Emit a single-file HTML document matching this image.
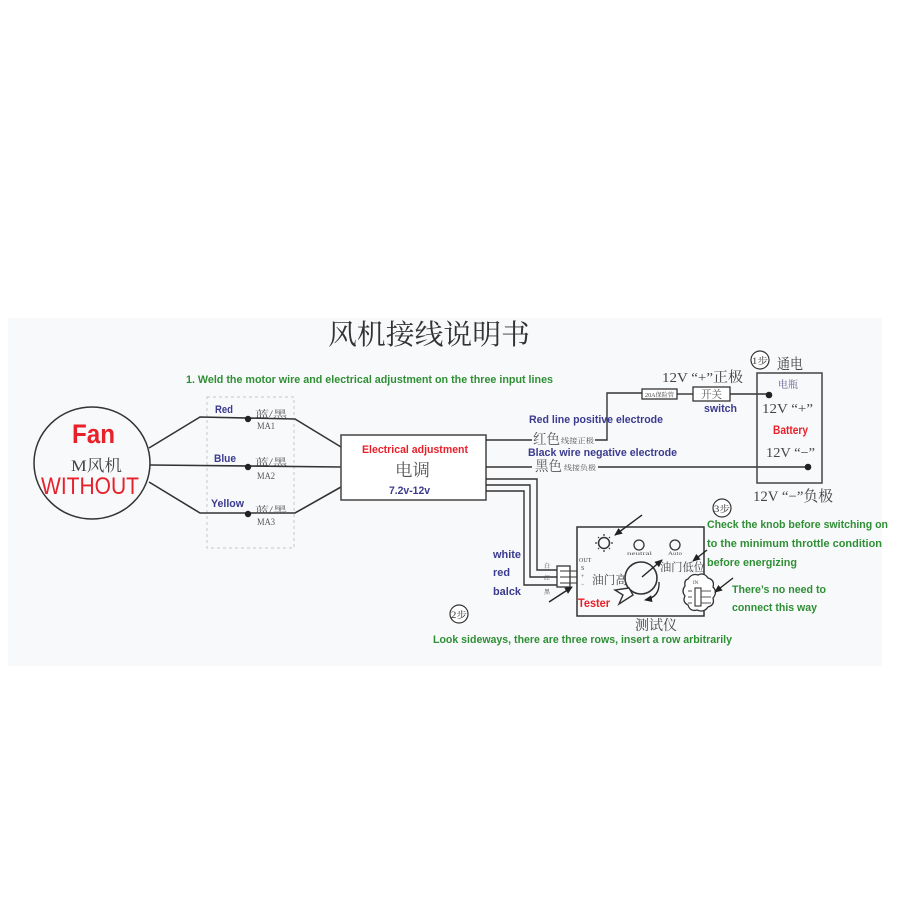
<!DOCTYPE html>
<html><head><meta charset="utf-8"><style>
html,body{margin:0;padding:0;background:#fff;}
svg{display:block;}
.en{font-family:"Liberation Sans",sans-serif;}
.cj{font-family:"Liberation Serif","Noto Serif CJK SC",serif;}
.g{fill:#2f8f35;font-weight:bold;font-family:"Liberation Sans",sans-serif;}
.b{fill:#3b3b8f;font-weight:bold;font-family:"Liberation Sans",sans-serif;}
.r{fill:#e8202a;font-weight:bold;font-family:"Liberation Sans",sans-serif;}
</style></head><body>
<svg width="900" height="900" viewBox="0 0 900 900" xmlns="http://www.w3.org/2000/svg">
<defs>
<marker id="ah" markerWidth="8" markerHeight="8" refX="7" refY="4" orient="auto" markerUnits="userSpaceOnUse">
<path d="M0,0.5 L8,4 L0,7.5 Z" fill="#222"/>
</marker>
</defs>
<rect x="0" y="0" width="900" height="900" fill="#fff"/>
<rect x="8" y="318" width="874" height="348" fill="#f8f9fb"/>

<!-- Title -->
<text x="328" y="344" class="cj" font-size="28" fill="#333" textLength="202" lengthAdjust="spacingAndGlyphs">风机接线说明书</text>
<text x="186" y="383" class="g" font-size="11" textLength="367" lengthAdjust="spacingAndGlyphs">1. Weld the motor wire and electrical adjustment on the three input lines</text>

<!-- Fan -->
<ellipse cx="92" cy="463" rx="58" ry="56" fill="none" stroke="#333" stroke-width="1.5"/>
<text x="72" y="443" class="r" font-size="27" textLength="43" lengthAdjust="spacingAndGlyphs">Fan</text>
<text x="71" y="471" class="cj" font-size="16" fill="#444" textLength="51" lengthAdjust="spacingAndGlyphs">M风机</text>
<text x="41" y="494" class="en" font-size="24" fill="#e8202a" textLength="98" lengthAdjust="spacingAndGlyphs">WITHOUT</text>

<!-- dashed rect -->
<rect x="207" y="397" width="87" height="151" fill="none" stroke="#c8c8c8" stroke-width="1" stroke-dasharray="3,3"/>

<!-- fan wires -->
<g stroke="#333" stroke-width="1.6" fill="none">
<polyline points="149,448 200,417 295,419 341,447"/>
<polyline points="150,465 341,467"/>
<polyline points="149,482 200,513 295,513 341,487"/>
</g>
<g fill="#222">
<circle cx="248" cy="419" r="3.2"/>
<circle cx="248" cy="467" r="3.2"/>
<circle cx="248" cy="514" r="3.2"/>
</g>
<text x="215" y="413" class="b" font-size="11" textLength="18" lengthAdjust="spacingAndGlyphs">Red</text>
<text x="214" y="462" class="b" font-size="11" textLength="22" lengthAdjust="spacingAndGlyphs">Blue</text>
<text x="211" y="507" class="b" font-size="11" textLength="33" lengthAdjust="spacingAndGlyphs">Yellow</text>
<g class="cj" font-size="9" fill="#555">
<text x="255" y="417" textLength="32" lengthAdjust="spacingAndGlyphs">蓝/黑</text>
<text x="257" y="429" textLength="18" lengthAdjust="spacingAndGlyphs">MA1</text>
<text x="255" y="465" textLength="32" lengthAdjust="spacingAndGlyphs">蓝/黑</text>
<text x="257" y="479" textLength="18" lengthAdjust="spacingAndGlyphs">MA2</text>
<text x="255" y="513" textLength="32" lengthAdjust="spacingAndGlyphs">蓝/黑</text>
<text x="257" y="525" textLength="18" lengthAdjust="spacingAndGlyphs">MA3</text>
</g>

<!-- ESC -->
<rect x="341" y="435" width="145" height="65" fill="#fff" stroke="#444" stroke-width="1.5"/>
<text x="362" y="453" class="r" font-size="11" textLength="106" lengthAdjust="spacingAndGlyphs">Electrical adjustment</text>
<text x="395" y="476" class="cj" font-size="17" fill="#555" textLength="35" lengthAdjust="spacingAndGlyphs">电调</text>
<text x="389" y="494" class="b" font-size="11" textLength="41" lengthAdjust="spacingAndGlyphs">7.2v-12v</text>

<!-- ESC outputs -->
<g stroke="#333" stroke-width="1.4" fill="none">
<polyline points="486,440 532,440"/>
<polyline points="595,440 607,440 607,393 642,393"/>
<polyline points="486,467 532,467"/>
<polyline points="598,467 808,467"/>
<polyline points="486,479 537,479 537,570 557,570"/>
<polyline points="486,485 530,485 530,577 557,577"/>
<polyline points="486,491 524,491 524,585 557,585"/>
<polyline points="677,394 693,394"/>
<polyline points="730,394 768,394"/>
</g>
<text x="529" y="423" class="b" font-size="11" textLength="134" lengthAdjust="spacingAndGlyphs">Red line positive electrode</text>
<text x="533" y="444" class="cj" font-size="14" fill="#555" textLength="27" lengthAdjust="spacingAndGlyphs">红色</text>
<text x="561" y="443" class="cj" font-size="7" fill="#555" textLength="33" lengthAdjust="spacingAndGlyphs">线接正极</text>
<text x="528" y="456" class="b" font-size="11" textLength="149" lengthAdjust="spacingAndGlyphs">Black wire negative electrode</text>
<text x="535" y="471" class="cj" font-size="14" fill="#555" textLength="27" lengthAdjust="spacingAndGlyphs">黑色</text>
<text x="564" y="470" class="cj" font-size="7" fill="#555" textLength="32" lengthAdjust="spacingAndGlyphs">线接负极</text>

<!-- fuse & switch -->
<rect x="642" y="389" width="35" height="10" fill="#fff" stroke="#333" stroke-width="1.3"/>
<text x="645" y="397" class="cj" font-size="6" fill="#444" textLength="29" lengthAdjust="spacingAndGlyphs">20A保险管</text>
<rect x="693" y="387" width="37" height="14" fill="#fff" stroke="#333" stroke-width="1.3"/>
<text x="701" y="398" class="cj" font-size="11" fill="#555" textLength="21" lengthAdjust="spacingAndGlyphs">开关</text>
<text x="662" y="382" class="cj" font-size="14" fill="#444" textLength="81" lengthAdjust="spacingAndGlyphs">12V “+”正极</text>
<text x="704" y="412" class="b" font-size="11" textLength="33" lengthAdjust="spacingAndGlyphs">switch</text>

<!-- Battery -->
<rect x="757" y="373" width="65" height="110" fill="none" stroke="#444" stroke-width="1.5"/>
<circle cx="760" cy="360" r="9" fill="#fff" stroke="#333" stroke-width="1.2"/>
<text x="752" y="364" class="cj" font-size="9" fill="#333" textLength="16" lengthAdjust="spacingAndGlyphs">1步</text>
<text x="777" y="369" class="cj" font-size="15" fill="#444" textLength="26" lengthAdjust="spacingAndGlyphs">通电</text>
<text x="778" y="388" class="cj" font-size="10" fill="#5a5a90" textLength="20" lengthAdjust="spacingAndGlyphs">电瓶</text>
<circle cx="769" cy="395" r="3.3" fill="#222"/>
<circle cx="808" cy="467" r="3.3" fill="#222"/>
<text x="762" y="413" class="cj" font-size="14" fill="#444" textLength="51" lengthAdjust="spacingAndGlyphs">12V “+”</text>
<text x="773" y="434" class="r" font-size="12" textLength="35" lengthAdjust="spacingAndGlyphs">Battery</text>
<text x="766" y="457" class="cj" font-size="14" fill="#444" textLength="49" lengthAdjust="spacingAndGlyphs">12V “−”</text>
<text x="753" y="501" class="cj" font-size="15" fill="#444" textLength="80" lengthAdjust="spacingAndGlyphs">12V “−”负极</text>

<!-- connector labels -->
<text x="493" y="558" class="b" font-size="11" textLength="28" lengthAdjust="spacingAndGlyphs">white</text>
<text x="493" y="576" class="b" font-size="11" textLength="17" lengthAdjust="spacingAndGlyphs">red</text>
<text x="493" y="595" class="b" font-size="11" textLength="28" lengthAdjust="spacingAndGlyphs">balck</text>
<g class="cj" font-size="6" fill="#444">
<text x="544" y="568">白</text>
<text x="544" y="580">红</text>
<text x="544" y="594">黑</text>
</g>
<rect x="557" y="566" width="13" height="21" fill="#fff" stroke="#333" stroke-width="1.3"/>
<g stroke="#333" stroke-width="1.1">
<line x1="560" y1="571" x2="577" y2="571"/>
<line x1="560" y1="577" x2="577" y2="577"/>
<line x1="560" y1="583" x2="577" y2="583"/>
</g>

<!-- Tester -->
<rect x="577" y="527" width="127" height="89" fill="none" stroke="#333" stroke-width="1.5"/>
<g class="cj" font-size="6" fill="#444">
<text x="579" y="562">OUT</text>
<text x="581" y="570">S</text>
<text x="581" y="578">+</text>
<text x="581" y="586">−</text>
</g>
<!-- sun -->
<circle cx="604" cy="543" r="5.5" fill="none" stroke="#333" stroke-width="1.5"/>
<g stroke="#333" stroke-width="1.2">
<line x1="604" y1="534" x2="604" y2="536"/><line x1="604" y1="550" x2="604" y2="552"/>
<line x1="595" y1="543" x2="597" y2="543"/><line x1="611" y1="543" x2="613" y2="543"/>
<line x1="598" y1="537" x2="599" y2="538"/><line x1="609" y1="548" x2="610" y2="549"/>
<line x1="610" y1="537" x2="609" y2="538"/><line x1="598" y1="549" x2="599" y2="548"/>
</g>
<circle cx="639" cy="545" r="5" fill="none" stroke="#333" stroke-width="1.3"/>
<circle cx="675" cy="545" r="5" fill="none" stroke="#333" stroke-width="1.3"/>
<text x="627" y="555" class="cj" font-size="5" fill="#555" textLength="25" lengthAdjust="spacingAndGlyphs">neutral</text>
<text x="668" y="555" class="cj" font-size="5" fill="#555" textLength="14" lengthAdjust="spacingAndGlyphs">Auto</text>
<!-- knob -->
<circle cx="641" cy="578" r="16" fill="none" stroke="#333" stroke-width="1.6"/>
<path d="M629,588 L615,590 L623,595 L619,604 L633,595 Z" fill="#fff" stroke="#333" stroke-width="1.4"/>
<line x1="642" y1="577" x2="662" y2="560" stroke="#222" stroke-width="1.4" marker-end="url(#ah)"/>
<path d="M659,582 Q660,597 645,600" fill="none" stroke="#222" stroke-width="1.3" marker-end="url(#ah)"/>
<text x="592" y="584" class="cj" font-size="12" fill="#444" textLength="35" lengthAdjust="spacingAndGlyphs">油门高</text>
<text x="660" y="571" class="cj" font-size="11.5" fill="#444" textLength="45" lengthAdjust="spacingAndGlyphs">油门低位</text>
<text x="578" y="607" class="r" font-size="12" textLength="32" lengthAdjust="spacingAndGlyphs">Tester</text>
<text x="635" y="630" class="cj" font-size="14" fill="#444" textLength="42" lengthAdjust="spacingAndGlyphs">测试仪</text>
<!-- cloud -->
<path d="M688,579 q4,-6 10,-4 q6,-3 10,3 q7,2 5,9 q5,5 0,11 q2,7 -5,9 q-4,6 -11,3 q-7,2 -9,-5 q-6,-3 -3,-9 q-4,-5 0,-10 q-1,-6 3,-7 Z" fill="#fff" stroke="#333" stroke-width="1.3"/>
<text x="693" y="584" class="cj" font-size="5" fill="#444">IN</text>
<rect x="695" y="588" width="6" height="18" fill="none" stroke="#333" stroke-width="1.1"/>
<g stroke="#555" stroke-width="1">
<line x1="701" y1="591" x2="711" y2="591"/><line x1="701" y1="597" x2="711" y2="597"/><line x1="701" y1="603" x2="711" y2="603"/>
<line x1="688" y1="591" x2="692" y2="591"/><line x1="688" y1="597" x2="692" y2="597"/><line x1="688" y1="603" x2="692" y2="603"/>
</g>
<!-- arrows -->
<g stroke="#222" stroke-width="1.4" fill="none">
<line x1="642" y1="515" x2="615" y2="535" marker-end="url(#ah)"/>
<line x1="707" y1="550" x2="693" y2="561" marker-end="url(#ah)"/>
<line x1="549" y1="602" x2="572" y2="587" marker-end="url(#ah)"/>
<line x1="733" y1="578" x2="715" y2="592" marker-end="url(#ah)"/>
</g>

<!-- step circles -->
<circle cx="459" cy="614" r="9" fill="#fff" stroke="#333" stroke-width="1.2"/>
<text x="451" y="618" class="cj" font-size="9" fill="#333" textLength="16" lengthAdjust="spacingAndGlyphs">2步</text>
<circle cx="722" cy="508" r="9" fill="#fff" stroke="#333" stroke-width="1.2"/>
<text x="714" y="512" class="cj" font-size="9" fill="#333" textLength="16" lengthAdjust="spacingAndGlyphs">3步</text>

<!-- green notes -->
<text x="707" y="528" class="g" font-size="11" textLength="181" lengthAdjust="spacingAndGlyphs">Check the knob before switching on</text>
<text x="707" y="547" class="g" font-size="11" textLength="175" lengthAdjust="spacingAndGlyphs">to the minimum throttle condition</text>
<text x="707" y="566" class="g" font-size="11" textLength="90" lengthAdjust="spacingAndGlyphs">before energizing</text>
<text x="732" y="593" class="g" font-size="11" textLength="94" lengthAdjust="spacingAndGlyphs">There’s no need to</text>
<text x="732" y="611" class="g" font-size="11" textLength="85" lengthAdjust="spacingAndGlyphs">connect this way</text>
<text x="433" y="643" class="g" font-size="11" textLength="299" lengthAdjust="spacingAndGlyphs">Look sideways, there are three rows, insert a row arbitrarily</text>
</svg>
</body></html>
